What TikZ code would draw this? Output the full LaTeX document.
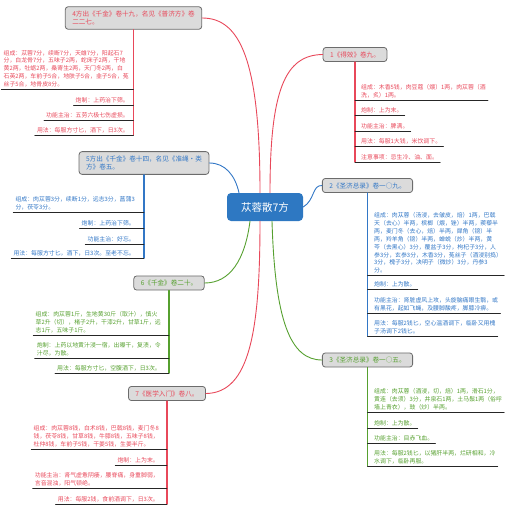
\documentclass[tikz,border=0pt]{standalone}
\usepackage{fontspec}
\setmainfont{Noto Sans CJK SC}
\definecolor{mred}{HTML}{E8485A}
\definecolor{mblue}{HTML}{3277C6}
\definecolor{mgreen}{HTML}{56A02F}
\definecolor{hubblue}{HTML}{2E78C2}
\tikzset{
  box/.style={draw=gray!85!black, fill=gray!28, rounded corners=3pt, line width=0.8pt,
    inner xsep=7pt, inner ysep=4pt, align=left, font=\fontsize{6.6}{8.6}\selectfont},
  hub/.style={fill=hubblue, text=white, rounded corners=4pt, minimum width=76pt,
    minimum height=28pt, font=\fontsize{10.5}{12}\selectfont},
  itm/.style={inner xsep=2pt, inner ysep=1.5pt, align=left, font=\fontsize{5.9}{7.9}\selectfont},
  uline/.style={line width=0.9pt, black!85},
  stem/.style={line width=1.1pt},
  link/.style={line width=0.9pt},
}
\begin{document}
\begin{tikzpicture}[x=1pt, y=-1pt, line cap=round, line join=round]
  \useasboundingbox (0,0) rectangle (504,508);
  % centre
  \node[hub] (hub) at (265,207) {苁蓉散7方};
  % branches
  \node[box, text=mred] (n1) at (355,54.5) {1《得效》卷九。};
  \node[box, text=mblue] (n2) at (367.5,185.5) {2《圣济总录》卷一○九。};
  \node[box, text=mgreen] (n3) at (367.5,360) {3《圣济总录》卷一○五。};
  \node[box, text=mred] (n4) at (133.5,18) {4方出《千金》卷十九，名见《普济方》卷\\二二七。};
  \node[box, text=mblue] (n5) at (144,163) {5方出《千金》卷十四，名见《准绳·类\\方》卷五。};
  \node[box, text=mgreen] (n6) at (169,283) {6《千金》卷二十。};
  \node[box, text=mred] (n7) at (167,393.5) {7《医学入门》卷八。};
  % links from the centre
  \draw[link, mred] ([xshift=5pt]hub.north) .. controls (270,90) and (285,55) .. (n1.west);
  \draw[link, mred] ([xshift=-5pt]hub.north) .. controls (260,60) and (240,18) .. (n4.east);
  \draw[link, mblue] ([xshift=-26pt]hub.north) .. controls (235,175) and (225,163) .. (n5.east);
  \draw[link, mblue] (hub.east) .. controls (315,200) and (312,185) .. (n2.west);
  \draw[link, mgreen] ([xshift=-15pt]hub.south) .. controls (245,260) and (230,283) .. (n6.east);
  \draw[link, mred] ([xshift=-5pt]hub.south) .. controls (260,330) and (250,393) .. (n7.east);
  \draw[link, mgreen] ([xshift=7pt]hub.south) .. controls (275,320) and (290,360) .. (n3.west);

  % 1
  \begin{scope}[every node/.style={itm, text=mred, anchor=south west}]
    \node (i11) at (359,100) {组成：木香5钱，肉豆蔻（煨）1两，肉苁蓉（酒\\洗，炙）1两。};
    \node (i12) at (359,115) {炮制：上为末。};
    \node (i13) at (359,131) {功能主治：脾满。};
    \node (i14) at (359,146) {用法：每服1大钱，米饮调下。};
    \node (i15) at (359,162) {注意事项：忌生冷、油、面。};
  \end{scope}
  \draw[stem, mred] (n1.south) -- (n1.south |- i15.south);
  \foreach \i in {i11,i12,i13,i14,i15}{\draw[uline] (n1.south |- \i.south) -- (\i.south east);}

  % 2
  \begin{scope}[every node/.style={itm, text=mblue, anchor=south west}]
    \node (i21) at (372,275) {组成：肉苁蓉（汤浸，去皱皮，焙）1两，巴戟\\天（去心）半两，槟榔（煨，锉）半两，蒺藜半\\两，麦门冬（去心，焙）半两，犀角（镑）半\\两，羚羊角（镑）半两，蝉蜕（炒）半两，黄\\芩（去黑心）3分，覆盆子3分，枸杞子3分，人\\参3分，玄参3分，木香3分，菟丝子（酒浸别捣）\\3分，槐子3分，决明子（微炒）3分，丹参3\\分。};
    \node (i22) at (372,289) {炮制：上为散。};
    \node (i23) at (372,313) {功能主治：肾脏虚风上攻，头旋脑痛眼生翳，或\\有黑花，起如飞蝇，及腰脚酸疼，脚膝冷痹。};
    \node (i24) at (372,336) {用法：每服2钱匕，空心温酒调下，临卧又用槐\\子汤调下2钱匕。};
  \end{scope}
  \draw[stem, mblue] (n2.south) -- (n2.south |- i24.south);
  \foreach \i in {i21,i22,i23,i24}{\draw[uline] (n2.south |- \i.south) -- (\i.south east);}

  % 3
  \begin{scope}[every node/.style={itm, text=mgreen, anchor=south west}]
    \node (i31) at (372,412) {组成：肉苁蓉（酒浸，切，焙）1两，滑石1分，\\黄连（去须）3分，井泉石1两，土马鬃1两（俗呼\\墙上青衣），豉（炒）半两。};
    \node (i32) at (372,428) {炮制：上为散。};
    \node (i33) at (372,443) {功能主治：目赤飞血。};
    \node (i34) at (372,466) {用法：每服2钱匕，以猪肝半两，烂研相和，冷\\水调下，临卧再服。};
  \end{scope}
  \draw[stem, mgreen] (n3.south) -- (n3.south |- i34.south);
  \foreach \i in {i31,i32,i33,i34}{\draw[uline] (n3.south |- \i.south) -- (\i.south east);}

  % 4
  \begin{scope}[every node/.style={itm, text=mred, anchor=south east}]
    \node (i41) at (131,89) {组成：苁蓉7分，续断7分，天雄7分，阳起石7\\分，白龙骨7分，五味子2两，蛇床子2两，干地\\黄2两，牡蛎2两，桑寄生2两，天门冬2两，白\\石英2两，车前子5合，地肤子5合，韭子5合，菟\\丝子5合，地骨皮8分。};
    \node (i42) at (131,105) {炮制：上药治下筛。};
    \node (i43) at (131,120) {功能主治：五劳六极七伤虚损。};
    \node (i44) at (131,135) {用法：每服方寸匕，酒下，日3次。};
  \end{scope}
  \draw[stem, mred] (n4.south) -- (n4.south |- i44.south);
  \foreach \i in {i41,i42,i43,i44}{\draw[uline] (\i.south west) -- (n4.south |- \i.south);}

  % 5
  \begin{scope}[every node/.style={itm, text=mblue, anchor=south east}]
    \node (i51) at (137,212) {组成：肉苁蓉3分，续断1分，远志3分，菖蒲3\\分，茯苓3分。};
    \node (i52) at (137,228) {炮制：上药治下筛。};
    \node (i53) at (137,244) {功能主治：好忘。};
    \node (i54) at (137,258) {用法：每服方寸匕，酒下，日3次。至老不忘。};
  \end{scope}
  \draw[stem, mblue] (n5.south) -- (n5.south |- i54.south);
  \foreach \i in {i51,i52,i53,i54}{\draw[uline] (\i.south west) -- (n5.south |- \i.south);}

  % 6
  \begin{scope}[every node/.style={itm, text=mgreen, anchor=south east}]
    \node (i61) at (163,335) {组成：肉苁蓉1斤，生地黄30斤（取汁），慎火\\草2升（切），楮子2升，干漆2升，甘草1斤，远\\志1斤，五味子1斤。};
    \node (i62) at (163,358) {炮制：上药以地黄汁浸一宿，出曝干，复渍，令\\汁尽，为散。};
    \node (i63) at (163,373) {用法：每服方寸匕，空腹酒下，日3次。};
  \end{scope}
  \draw[stem, mgreen] (n6.south) -- (n6.south |- i63.south);
  \foreach \i in {i61,i62,i63}{\draw[uline] (\i.south west) -- (n6.south |- \i.south);}

  % 7
  \begin{scope}[every node/.style={itm, text=mred, anchor=south east}]
    \node (i71) at (161,449) {组成：肉苁蓉8钱，白术8钱，巴戟8钱，麦门冬8\\钱，茯苓8钱，甘草8钱，牛膝8钱，五味子8钱，\\杜仲8钱，车前子5钱，干姜5钱，生姜半斤。};
    \node (i72) at (161,465) {炮制：上为末。};
    \node (i73) at (161,488) {功能主治：肾气虚惫阴痿，腰脊痛，身重脚弱，\\言音混浊，阳气顿绝。};
    \node (i74) at (161,504) {用法：每服2钱，食前酒调下，日3次。};
  \end{scope}
  \draw[stem, mred] (n7.south) -- (n7.south |- i74.south);
  \foreach \i in {i71,i72,i73,i74}{\draw[uline] (\i.south west) -- (n7.south |- \i.south);}
\end{tikzpicture}
\end{document}
